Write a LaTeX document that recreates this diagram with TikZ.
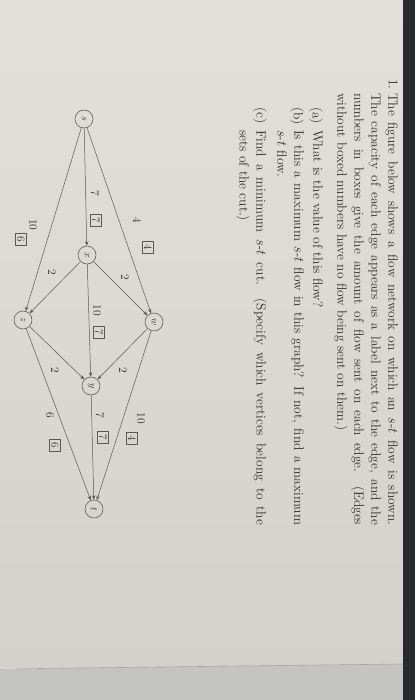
\documentclass[tikz,border=0pt]{standalone}
\usetikzlibrary{arrows.meta}
\definecolor{ink}{RGB}{48,48,46}
\definecolor{paperhi}{RGB}{226,225,217}
\definecolor{paperlo}{RGB}{210,210,203}
\definecolor{desk}{RGB}{196,197,192}
\definecolor{frame}{RGB}{40,43,46}
\tikzset{
  vertex/.style={circle, draw=ink!85, line width=0.5pt, minimum size=18pt, inner sep=0pt, text=ink, font=\fontsize{10}{10}\selectfont},
  flow/.style={draw=ink!80, line width=0.5pt, -{Stealth[length=4.5pt,width=3.5pt]}},
  capac/.style={inner sep=0pt, text=ink, font=\fontsize{11.5}{12}\selectfont},
  amount/.style={draw=ink!80, line width=0.5pt, inner sep=1pt, minimum width=12pt, minimum height=11pt, text=ink, font=\fontsize{11}{11}\selectfont},
  para/.style={anchor=north west, inner sep=0pt, align=justify, text=ink, font=\fontsize{13.5}{17}\selectfont}
}
\begin{document}
\begin{tikzpicture}[x=1pt,y=1pt]
    \useasboundingbox (0,0) rectangle (415,-700);
    % the photographed sheet
    \shade[top color=paperhi, bottom color=paperlo] (0,0) rectangle (403,-667);
    \fill[desk] (0,-669) -- (403,-664) -- (403,-700) -- (0,-700) -- cycle;
    \draw[black!35, line width=0.6pt] (0,-669) -- (403,-664);
    \fill[frame] (403,0) rectangle (415,-700);

    % the page itself lies on its side
    \begin{scope}[rotate=-90, transform shape]
    % question text
    \node[para] (num) at (79,398) {1.};
    \node[para, text width=432pt] (intro) at (93,398)
        {The figure below shows a flow network on which an $s$-$t$ flow is shown.\linebreak
         The capacity of each edge appears as a label next to the edge, and the\linebreak
         numbers in boxes give the amount of flow sent on each edge. (Edges\linebreak
         without boxed numbers have no flow being sent on them.)};
    \node[para] (qa-lbl) at (107,323) {(a)};
    \node[para, text width=395pt] (qa) at (130,323) {What is the value of this flow?};
    \node[para] (qb-lbl) at (107,304) {(b)};
    \node[para, text width=395pt] (qb) at (130,304)
        {Is this a maximum $s$-$t$ flow in this graph? If not, find a maximum\linebreak
         $s$-$t$ flow.};
    \node[para] (qc-lbl) at (107,267) {(c)};
    \node[para, text width=395pt] (qc) at (130,267)
        {Find a minimum $s$-$t$ cut. (Specify which vertices belong to the\linebreak
         sets of the cut.)};

    % the network
    \node[vertex] (s) at (119,84) {$s$};
    \node[vertex] (x) at (255,87) {$x$};
    \node[vertex] (w) at (322,154) {$w$};
    \node[vertex] (z) at (320,23) {$z$};
    \node[vertex] (y) at (386,91) {$y$};
    \node[vertex] (t) at (509,94) {$t$};

    \draw[flow] (s) -- (x);
    \draw[flow] (s) -- (w);
    \draw[flow] (s) -- (z);
    \draw[flow] (x) -- (w);
    \draw[flow] (x) -- (z);
    \draw[flow] (x) -- (y);
    \draw[flow] (w) -- (y);
    \draw[flow] (z) -- (y);
    \draw[flow] (w) -- (t);
    \draw[flow] (y) -- (t);
    \draw[flow] (z) -- (t);

    % capacities and boxed flow amounts
    \node[capac] (c-sx) at (193,95) {7};
    \node[amount] (f-sx) at (220,96) {7};
    \node[capac] (c-sw) at (220,137) {4};
    \node[amount] (f-sw) at (247,148) {4};
    \node[capac] (c-sz) at (225,33) {10};
    \node[amount] (f-sz) at (239,21) {6};
    \node[capac] (c-xw) at (277,125) {2};
    \node[capac] (c-xz) at (272,52) {2};
    \node[capac] (c-xy) at (310,97) {10};
    \node[amount] (f-xy) at (332,99) {7};
    \node[capac] (c-wy) at (370,123) {2};
    \node[capac] (c-zy) at (370,55) {2};
    \node[capac] (c-wt) at (418,141) {10};
    \node[amount] (f-wt) at (438,132) {4};
    \node[capac] (c-yt) at (415,100) {7};
    \node[amount] (f-yt) at (437,103) {7};
    \node[capac] (c-zt) at (415,50) {6};
    \node[amount] (f-zt) at (445,55) {6};
    \end{scope}
\end{tikzpicture}
\end{document}
